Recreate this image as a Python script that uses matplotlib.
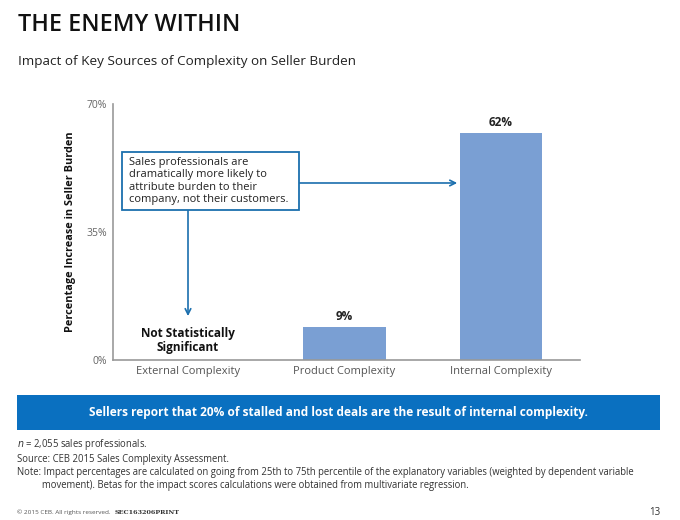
import matplotlib
matplotlib.use("Agg")
import matplotlib.pyplot as plt
from matplotlib.patches import Rectangle

plt.rcParams['font.family'] = ['Open Sans', 'DejaVu Sans']

categories = ["External Complexity", "Product Complexity", "Internal Complexity"]
values = [0, 9, 62]
value_labels = ["", "9%", "62%"]
yticks = [0, 35, 70]
ytick_labels = ["0%", "35%", "70%"]

bar_color = "#7a9fd3"
blue = "#1b6fae"
banner_blue = "#0a70c0"

fig = plt.figure(figsize=(6.8, 5.2), dpi=100)
ax = fig.add_axes([0.166, 0.3077, 0.687, 0.4923])

x = list(range(len(categories)))
ax.bar(x, values, width=0.525, color=bar_color, zorder=2)
for xi, v, lab in zip(x, values, value_labels):
    if lab:
        ax.text(xi, v + 1.2, lab, ha="center", va="bottom", fontsize=8.5,
                fontweight="bold", color="#222222")

ax.text(0, 5.3, "Not Statistically\nSignificant", ha="center", va="center",
        fontsize=8.5, fontweight="bold", color="#111111", linespacing=1.1)

ax.set_xlim(-0.48, 2.505)
ax.set_ylim(0, 70)
ax.set_yticks(yticks)
ax.set_yticklabels(ytick_labels, fontsize=7.5, color="#666666")
ax.set_xticks(x)
ax.set_xticklabels(categories, fontsize=8, color="#555555")
ax.tick_params(axis="both", length=0, pad=4)
for s in ["top", "right"]:
    ax.spines[s].set_visible(False)
for s in ["left", "bottom"]:
    ax.spines[s].set_color("#999999")
    ax.spines[s].set_linewidth(1.2)
ax.set_ylabel("Percentage Increase in Seller Burden", fontsize=7.8,
              fontweight="bold", color="#111111", labelpad=8)

# callout box
box_x0, box_x1 = -0.42, 0.71
box_y0, box_y1 = 41.0, 56.9
ax.add_patch(Rectangle((box_x0, box_y0), box_x1 - box_x0, box_y1 - box_y0,
                       facecolor="white", edgecolor=blue, linewidth=1.3, zorder=4))
ax.text(box_x0 + 0.045, (box_y0 + box_y1) / 2,
        "Sales professionals are\ndramatically more likely to\nattribute burden to their\ncompany, not their customers.",
        ha="left", va="center", fontsize=8.0, color="#222222", zorder=5,
        linespacing=1.2)
ax.annotate("", xy=(0, 12.0), xytext=(0, box_y0),
            arrowprops=dict(arrowstyle="->", color=blue, lw=1.2,
                            shrinkA=0, shrinkB=0), zorder=3)
ax.annotate("", xy=(1.72, 48.4), xytext=(box_x1, 48.4),
            arrowprops=dict(arrowstyle="->", color=blue, lw=1.2,
                            shrinkA=0, shrinkB=0), zorder=3)

# title and subtitle
fig.text(18 / 680, 1 - 31 / 520, "THE ENEMY WITHIN", fontsize=16.8,
         fontweight="semibold", color="#111111", ha="left", va="baseline")
fig.text(18 / 680, 1 - 65 / 520, "Impact of Key Sources of Complexity on Seller Burden",
         fontsize=9.7, color="#222222", ha="left", va="baseline")

# banner
fig.patches.append(Rectangle((17 / 680, 1 - 430 / 520), (660 - 17) / 680, 35 / 520,
                             transform=fig.transFigure, facecolor=banner_blue,
                             edgecolor="none"))
fig.text((17 + 660) / 2 / 680, 1 - 412.5 / 520,
         "Sellers report that 20% of stalled and lost deals are the result of internal complexity.",
         fontsize=8.6, fontweight="bold", color="white", ha="center", va="center")

# footnotes
fn = 6.85
fig.text(17 / 680, 1 - 447 / 520, "$n$ = 2,055 sales professionals.", fontsize=fn,
         color="#333333", ha="left", va="baseline")
fig.text(17 / 680, 1 - 462 / 520, "Source: CEB 2015 Sales Complexity Assessment.",
         fontsize=fn, color="#333333", ha="left", va="baseline")
fig.text(17 / 680, 1 - 475 / 520,
         "Note: Impact percentages are calculated on going from 25th to 75th percentile of the explanatory variables (weighted by dependent variable",
         fontsize=fn, color="#333333", ha="left", va="baseline")
fig.text(42 / 680, 1 - 488 / 520,
         "movement). Betas for the impact scores calculations were obtained from multivariate regression.",
         fontsize=fn, color="#333333", ha="left", va="baseline")

fig.text(17 / 680, 1 - 514 / 520, "© 2015 CEB. All rights reserved.", fontsize=4.6,
         color="#555555", ha="left", va="baseline")
fig.text(115 / 680, 1 - 514 / 520, "SEC163206PRINT", fontsize=4.6, family="DejaVu Serif",
         fontweight="bold", color="#333333", ha="left", va="baseline")
fig.text(660 / 680, 1 - 515 / 520, "13", fontsize=7, color="#333333",
         ha="right", va="baseline")

fig.savefig("out.png", dpi=100, facecolor="white")
